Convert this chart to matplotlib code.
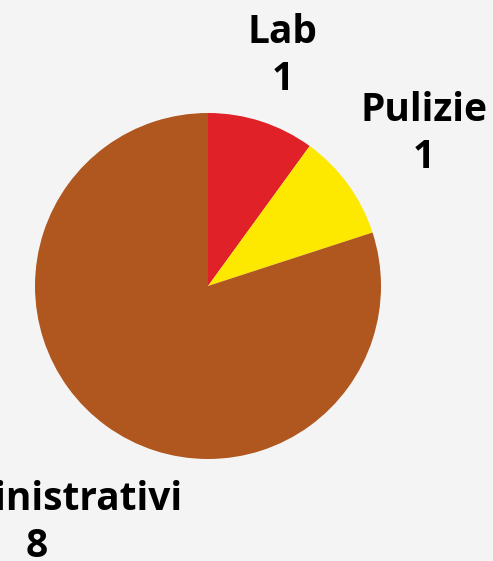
import matplotlib
matplotlib.use("Agg")
import matplotlib.pyplot as plt

categories = ["Lab", "Pulizie", "Amministrativi"]
values = [1, 1, 8]
colors = ["#e02127", "#fde800", "#b0561f"]
# label anchor points in pie radius units
label_x = [0.43, 1.25, -0.99]
label_y = [1.33, 0.88, -1.37]

W, H = 493, 561
fig = plt.figure(figsize=(W / 100, H / 100), dpi=100, facecolor="#f4f4f4")
cx, cy, r = 208, 286, 173
ax = fig.add_axes([(cx - r) / W, (H - cy - r) / H, 2 * r / W, 2 * r / H])
ax.set_facecolor("#f4f4f4")

ax.pie(values, colors=colors, startangle=90, counterclock=False, radius=1,
       wedgeprops=dict(linewidth=0))
ax.set_xlim(-1, 1)
ax.set_ylim(-1, 1)
ax.set_aspect("equal")
ax.axis("off")

for name, v, x, y in zip(categories, values, label_x, label_y):
    ax.text(x, y, f"{name}\n{v}", ha="center", va="center", fontsize=28,
            fontweight="bold", family=["Open Sans", "DejaVu Sans"],
            linespacing=1.28, clip_on=False)

fig.savefig("out.png", dpi=100, facecolor=fig.get_facecolor())
